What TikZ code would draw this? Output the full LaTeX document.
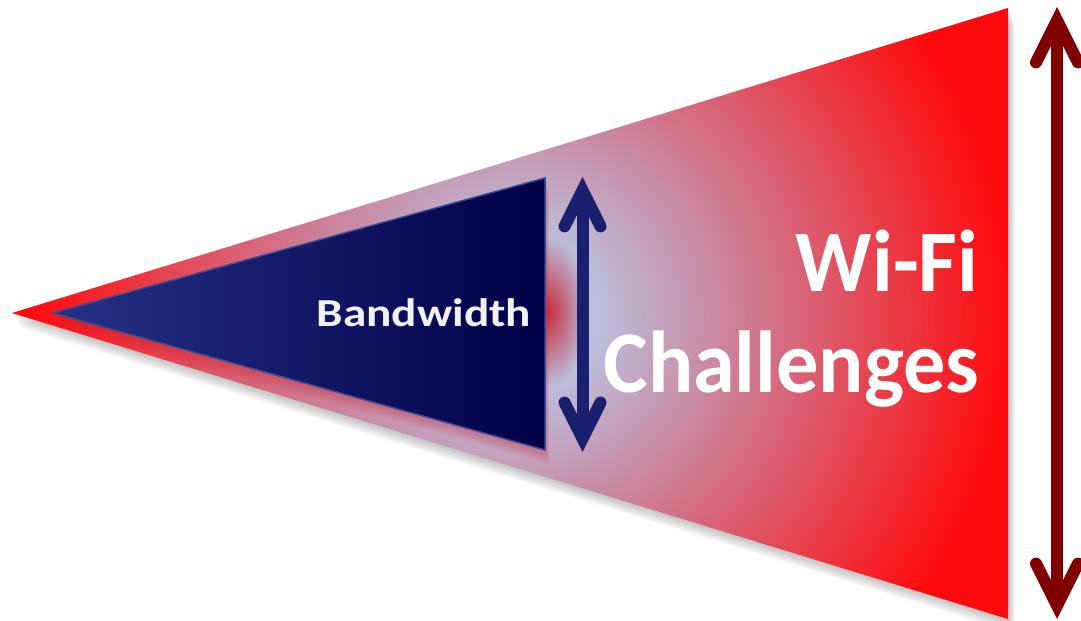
\documentclass[tikz,border=0pt]{standalone}
\usepackage{fontspec}
\setmainfont{Carlito}
\usetikzlibrary{arrows.meta,fadings}

\definecolor{wlav}{RGB}{188,190,220}
\definecolor{wpink}{RGB}{204,128,152}
\definecolor{wred}{RGB}{255,10,12}
\definecolor{bwleft}{RGB}{38,50,135}
\definecolor{bwright}{RGB}{0,0,70}
\definecolor{bwedge}{RGB}{60,75,150}
\definecolor{bwglow}{RGB}{200,30,45}
\definecolor{bwarrow}{RGB}{26,32,110}
\definecolor{wfarrow}{RGB}{128,0,0}
\definecolor{bwtext}{RGB}{240,240,245}

\pgfdeclareradialshading{wifiglow}{\pgfpoint{0bp}{0bp}}{color(0bp)=(wlav); color(1.96bp)=(wlav); color(5.4bp)=(wpink); color(12.25bp)=(wred); color(50bp)=(wred)}
\tikzfading[name=glowfade, inner color=transparent!10, outer color=transparent!100]

\tikzset{
	span arrow/.style={line width=1.2mm, {Straight Barb[line cap=round, length=#1, width=#1]}-{Straight Barb[line cap=round, length=#1, width=#1]}},
	big label/.style={text=white, font=\bfseries\fontsize{25}{30}\selectfont, inner sep=0pt},
	small label/.style={text=bwtext, font=\bfseries\fontsize{11.3}{13}\selectfont, inner sep=0pt},
}

\begin{document}
\begin{tikzpicture}[x=0.1mm, y=-0.1mm]
			%%%%% START %%%%%
			\useasboundingbox (0, 0) rectangle (1081, 621);
			
			\coordinate (apex) at (12, 313);
			\coordinate (top) at (1008, 8);
			\coordinate (bot) at (1008, 619);
			\coordinate (bapex) at (53, 313);
			\coordinate (btop) at (545, 178);
			\coordinate (bbot) at (545, 450);
			
			% shadow of the big wedge
			\foreach \d in {2, 4, ..., 14}{
				\begin{scope}[shift={(\d*0.5, \d)}]
					\fill[black, opacity=0.035] (12, 313) -- (1008, 8) -- (1008, 619) -- cycle;
				\end{scope}
			}
			
			% big wedge
			\begin{scope}
				\clip (apex) -- (top) -- (bot) -- cycle;
				\shade[shading=wifiglow] (520, 315) circle (1000);
				
				% red glow round the small wedge
				\foreach \d in {2, 4, ..., 14}{
					\begin{scope}[shift={(\d*0.3, \d)}]
						\fill[bwglow, opacity=0.06] (53, 313) -- (545, 178) -- (545, 450) -- cycle;
					\end{scope}
				}
				\fill[bwglow, path fading=glowfade] (548, 312) ellipse (40 and 75);
			\end{scope}
			
			% small wedge
			\shade[left color=bwleft, right color=bwright, draw=bwedge, line width=0.15mm] (bapex) -- (btop) -- (bbot) -- cycle;
			
			% arrows
			\coordinate (bw up) at (582.5, 177);
			\coordinate (bw down) at (582.5, 452);
			\draw[span arrow=3.6mm, bwarrow] (bw down) -- (bw up);
			
			\coordinate (wf up) at (1057, 7);
			\coordinate (wf down) at (1057, 619);
			\draw[span arrow=4.2mm, wfarrow] (wf down) -- (wf up);
			
			% labels
			\node[small label, anchor=base west] (bandwidth) at (316, 327) {\scalebox{1.19}[1]{Bandwidth}};
			\node[big label, anchor=base east] (wifi) at (979, 292) {\scalebox{0.96}[1]{Wi-Fi}};
			\node[big label, anchor=base east] (challenges) at (980, 393) {\scalebox{0.96}[1]{Challenges}};
			
			%%%%% END %%%%%
\end{tikzpicture}
\end{document}
